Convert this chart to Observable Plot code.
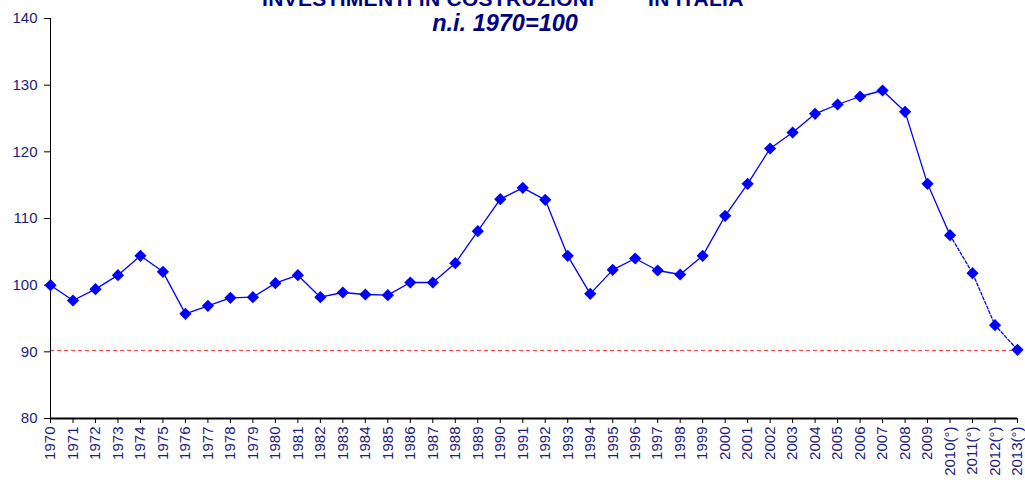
<!DOCTYPE html>
<html>
<head>
<meta charset="utf-8">
<script src="https://cdn.jsdelivr.net/npm/d3@7"></script>
<script src="https://cdn.jsdelivr.net/npm/@observablehq/plot@0.6"></script>
<style>
  html, body { margin: 0; padding: 0; background: #fff; overflow: hidden; }
  #wrap { position: relative; width: 1025px; height: 480px; }
  .title { position: absolute; color: #000080; white-space: pre; line-height: 1;
           font-family: "Liberation Sans", Arial, sans-serif; font-weight: bold; }
  #t1a { top: -12px; left: 262px; font-size: 21px; letter-spacing: 0.3px; }
  #t1b { top: -12px; left: 648px; font-size: 21px; letter-spacing: 0.3px; }
  #t2 { top: 12px; left: 0; width: 1010px; text-align: center; font-size: 23.5px; font-style: italic; }
</style>
</head>
<body>
<div id="wrap">
  <div class="title" id="t1a">INVESTIMENTI IN COSTRUZIONI*</div>
  <div class="title" id="t1b">IN ITALIA</div>
  <div class="title" id="t2">n.i. 1970=100</div>
</div>
<script>
const years = ["1970","1971","1972","1973","1974","1975","1976","1977","1978","1979",
  "1980","1981","1982","1983","1984","1985","1986","1987","1988","1989",
  "1990","1991","1992","1993","1994","1995","1996","1997","1998","1999",
  "2000","2001","2002","2003","2004","2005","2006","2007","2008","2009",
  "2010(°)","2011(°)","2012(°)","2013(°)"];
const values = [100, 97.7, 99.4, 101.5, 104.4, 102.0, 95.7, 96.9, 98.1, 98.2,
  100.3, 101.5, 98.2, 98.9, 98.6, 98.5, 100.4, 100.4, 103.3, 108.1,
  112.9, 114.6, 112.8, 104.4, 98.7, 102.3, 104.0, 102.2, 101.6, 104.4,
  110.4, 115.2, 120.5, 122.9, 125.7, 127.1, 128.3, 129.2, 126.0, 115.2,
  107.5, 101.8, 94.0, 90.3];
const referenceLevel = 90.2;
const yTicks = [80, 90, 100, 110, 120, 130, 140];
const forecastStart = 40; // index of the first "(°)" year

const data = years.map((y, i) => ({i, year: y, value: values[i]}));
const solid = data.slice(0, forecastStart + 1);
const dashed = data.slice(forecastStart);
const yearIdx = d3.range(years.length);

const navy = "#1c1c7c";
const chart = Plot.plot({
  width: 1025,
  height: 480,
  marginLeft: 50,
  marginRight: 8,
  marginTop: 18,
  marginBottom: 62,
  style: {fontFamily: "'Liberation Sans', Arial, sans-serif", background: "transparent"},
  x: {domain: [0, years.length - 1]},
  y: {domain: [80, 140]},
  marks: [
    Plot.ruleY([referenceLevel], {stroke: "#ff4040", strokeDasharray: "4,3", strokeWidth: 1}),
    Plot.axisY({ticks: yTicks, tickSize: 6, tickPadding: 7, color: navy, stroke: "#000", fontSize: 15, label: null}),
    Plot.axisX({ticks: yearIdx, tickFormat: i => years[i], tickSize: 5, tickRotate: -90, tickPadding: 3,
                color: navy, stroke: "#000", fontSize: 15, label: null}),
    Plot.ruleX([0], {stroke: "#000", strokeWidth: 1}),
    Plot.ruleY([80], {stroke: "#000", strokeWidth: 2}),
    Plot.line(solid, {x: "i", y: "value", stroke: "#0000ff", strokeWidth: 1.3}),
    Plot.line(dashed, {x: "i", y: "value", stroke: "#0000ff", strokeWidth: 1.3, strokeDasharray: "3,2"}),
    Plot.dot(data, {x: "i", y: "value", symbol: "diamond2", r: 5.5, fill: "#0000ff", stroke: "none"})
  ]
});
document.getElementById("wrap").appendChild(chart);
</script>
</body>
</html>
